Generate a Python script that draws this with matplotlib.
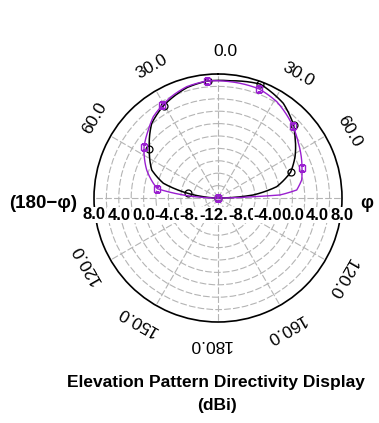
import numpy as np
import matplotlib
matplotlib.use("Agg")
import matplotlib.pyplot as plt
import matplotlib.transforms as mtransforms

plt.rcParams['font.family'] = ['Liberation Sans', 'DejaVu Sans']

# ---- data (angle in degrees, clockwise from zenith; value in dBi) ----
purple_ang = [-90, -81.3, -68.6, -55.6, -45.7, -38.5, -31, -23.5, -15.7, -5.2, 5.9,
              20.6, 31.4, 45.9, 55.7, 70.2, 77.9, 84.2, 87.2, 87.9, 90]
purple_val = [-12, -2.1, 0.35, 2.47, 3.7, 4.76, 5.44, 6.1, 6.65, 6.95, 6.86,
              6.8, 6.2, 4.77, 3.7, 2.4, 1.8, 0.76, -2.0, -6.3, -12]
purple_marks = [1, 3, 6, 9, 11, 13, 15, 20]

black_ang = [-90, -85, -81.2, -74.9, -67.1, -54.5, -41.6, -30.5, -15.7, -5, 5.9,
             20.4, 34.6, 46, 51.5, 61.8, 70.4, 79.1, 85.1, 90]
black_val = [-12, -9.6, -7.05, -2.87, -0.4, 1.6, 4.1, 5.3, 6.5, 6.95, 7.0,
             7.6, 6.55, 4.95, 3.87, 2.1, 0.44, -2.36, -6.3, -12]
black_marks = [2, 5, 7, 9, 11, 13, 16, 19]

r_min, r_max = -12, 8
ring_vals = np.arange(-10, 8, 2)
spoke_angles = np.arange(0, 360, 30)

angle_label_pos = [0, 30, 60, 120, 150, 180, -150, -120, -60, -30]
angle_label_txt = ["0.0", "30.0", "60.0", "120.0", "160.0", "180.0",
                   "150.0", "120.0", "60.0", "30.0"]

radial_left = [8, 4, 0, -4, -8, -12]
radial_right = [-8, -4, 0, 4, 8]

title_line1 = "Elevation Pattern Directivity Display"
title_line2 = "(dBi)"

# ---- figure ----
W, H = 379, 423
fig = plt.figure(figsize=(W / 100, H / 100), dpi=100)
cx, cy, R = 218, 198, 124
ax = fig.add_axes([(cx - R) / W, (H - cy - R) / H, 2 * R / W, 2 * R / H],
                  projection='polar')
ax.set_theta_zero_location('N')
ax.set_theta_direction(-1)
ax.set_rlim(r_min, r_max)
ax.set_thetagrids(spoke_angles, labels=[])
ax.set_rgrids(ring_vals, labels=[])
ax.grid(True, color='#B4B4B4', linestyle=(0, (6, 2)), linewidth=0.8)
ax.spines['polar'].set_color('black')
ax.spines['polar'].set_linewidth(1.2)
ax.tick_params(length=0)

ln_b, = ax.plot(np.deg2rad(black_ang), black_val, color='black', lw=1.1,
                marker='o', ms=5, mfc='none', mec='black', mew=0.9,
                markevery=black_marks, zorder=3)
ln_p, = ax.plot(np.deg2rad(purple_ang), purple_val, color='#9A1FD0', lw=1.0,
                marker='s', ms=5, mfc='none', mec='#9A1FD0', mew=1.0,
                markevery=purple_marks, zorder=4)
for ln in (ln_b, ln_p):
    ln.get_path()._interpolation_steps = 40

# angle labels
px_per_unit = R / (r_max - r_min)
r_lab = r_min + 147 / px_per_unit
for a, t in zip(angle_label_pos, angle_label_txt):
    ax.text(np.deg2rad(a + 3), r_lab, t, rotation=-a, rotation_mode='anchor',
            ha='center', va='center', fontsize=12.5, clip_on=False)

# radial labels along the horizontal axis
off = mtransforms.offset_copy(ax.transData, fig=fig, x=0, y=-17, units='dots')
for v in radial_left:
    ax.text(np.deg2rad(-90), v, f"{v:.1f}", transform=off, ha='center', va='center',
            fontsize=12, fontweight='bold', clip_on=False, zorder=6,
            bbox=dict(facecolor='white', edgecolor='none', pad=0.2))
for v in radial_right:
    ax.text(np.deg2rad(90), v, f"{v:.1f}", transform=off, ha='center', va='center',
            fontsize=12, fontweight='bold', clip_on=False, zorder=6,
            bbox=dict(facecolor='white', edgecolor='none', pad=0.2))

fig.text(43 / W, 1 - 203 / H, "(180\u2212\u03c6)", ha='center', va='center',
         fontsize=13.5, fontweight='bold')
fig.text(367 / W, 1 - 203 / H, "\u03c6", ha='center', va='center',
         fontsize=13, fontweight='bold')

fig.text(216 / W, 1 - 382 / H, title_line1, ha='center', va='center',
         fontsize=12.5, fontweight='bold')
fig.text(217 / W, 1 - 405 / H, title_line2, ha='center', va='center',
         fontsize=12.5, fontweight='bold')

fig.savefig("out.png", dpi=100)
